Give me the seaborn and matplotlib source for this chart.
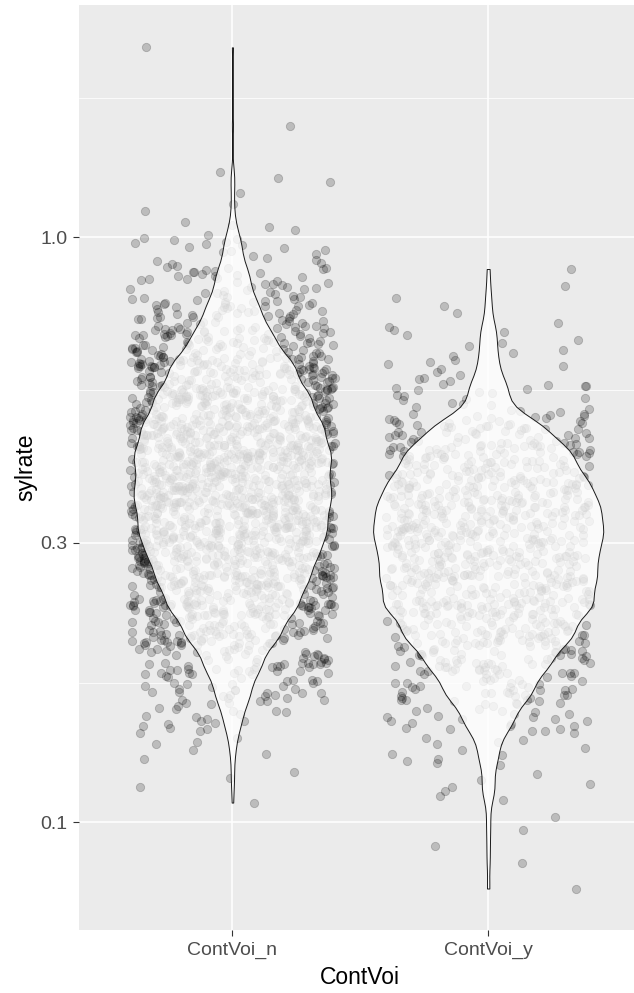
import matplotlib
matplotlib.use("Agg")
import numpy as np
import pandas as pd
import matplotlib.pyplot as plt
import seaborn as sns
from matplotlib.ticker import FixedLocator, NullFormatter

# sylrate values (ContVoi_n group), grouped by level
sylrate_n = [
    2.11, 1.55, 1.29, 1.26, 1.24, 1.19, 1.14, 1.11, 1.06, 1.05, 1.04, 1.03, 1.01,
    .998, .962, .915, .987, .943, .903, .976, .928, .951, .894, .969, .935, .909,
    .993, .957, .921, .982, .898, .946, .973,
    .884, .801, .856, .823, .872, .812, .847, .797, .866, .833, .879, .808, .841, .859, .818, .888, .827, .852, .804, .869, .838,
    .876, .814, .849, .799, .862, .831, .886, .806, .844, .871, .821, .857, .836, .881, .816,
    .789, .712, .754, .731, .776, .722, .763, .745, .709, .781, .737, .768, .716, .751, .727, .792, .741, .758, .719, .772,
    .734, .785, .748, .725, .766, .713, .757, .739, .779, .729, .761,
    .786, .715, .752, .729, .774, .742, .761, .711, .783, .735, .769, .723, .756, .747, .791, .718, .764, .738, .777, .726,
    .759, .744, .771, .732,
    .704, .636, .671, .652, .689, .644, .697, .663, .633, .681, .657, .699, .641, .675, .667, .692, .648, .684, .638, .659,
    .701, .673, .646, .687, .655, .632, .679, .694, .661, .649, .706, .669, .639, .685, .653, .696, .643, .677, .665, .690,
    .635, .658, .702, .672, .647, .683, .662, .693,
    .705, .637, .668, .654, .691, .645, .678, .660, .698, .634, .674, .650, .686, .642, .664, .695, .656, .682, .640, .670,
    .703, .651, .688, .663, .633, .676, .647, .693, .659, .680, .644, .700, .666, .653, .684, .639, .671,
    .627, .568, .594, .611, .575, .603, .582, .619, .565, .598, .586, .624, .571, .607, .590, .615, .578, .601, .566, .622,
    .584, .596, .613, .573, .605, .588, .629, .569, .609, .580, .617, .592, .564, .600, .625, .576, .612, .587, .597, .570,
    .621, .583, .606, .593, .616, .567, .602, .579, .626, .589, .610, .574, .599, .620, .585, .572, .608, .595, .628, .581,
    .614, .591, .577, .604, .618, .586, .623, .569, .597, .612, .583,
    .628, .566, .593, .609, .577, .604, .583, .618, .563, .599, .587, .623, .572, .606, .591, .614, .579, .600, .567, .621,
    .585, .595, .612, .574, .603, .589, .630, .570, .608, .581, .616, .594, .565, .601, .624, .577, .611, .588, .596, .571,
    .619, .584, .607, .592, .615, .568, .602, .578, .627, .590, .610, .575, .598, .620,
    .559, .504, .531, .547, .512, .538, .521, .553, .507, .526, .544, .516, .535, .558, .509, .528, .549, .518, .541, .503,
    .524, .556, .514, .533, .546, .520, .539, .506, .551, .529, .513, .543, .523, .557, .510, .536, .548, .517, .532, .502,
    .554, .525, .540, .511, .545, .519, .534, .560, .508, .530, .550, .515, .537, .522, .555, .505, .542, .527, .548, .513,
    .536, .552, .509, .529, .544, .520, .557, .511, .538, .524, .549, .506, .533, .541, .516, .553, .527, .503, .546, .519,
    .535, .561, .512, .531, .545, .522, .539, .508,
    .557, .505, .530, .548, .511, .537, .520, .552, .506, .527, .543, .515, .534, .559, .508, .529, .547, .517, .540, .502,
    .523, .555, .513, .532, .545, .521, .538, .507, .550, .528, .514, .542, .524, .556, .509, .535, .547, .518, .531, .503,
    .553, .526, .539, .512, .544, .520, .533, .561, .507, .529, .551, .516, .536, .523, .554, .504, .541, .526, .549, .514,
    .537, .551, .510, .530, .543, .519, .558,
    .498, .451, .474, .489, .458, .481, .466, .495, .449, .470, .486, .461, .478, .493, .455, .472, .484, .463, .497, .452,
    .476, .490, .459, .468, .483, .448, .494, .471, .487, .456, .479, .464, .499, .453, .475, .491, .460, .469, .482, .450,
    .496, .473, .485, .457, .477, .465, .492, .454, .480, .467, .488, .462, .500, .471, .483, .449, .476, .494, .458, .470,
    .486, .456, .479, .463, .497, .452, .474, .489, .461, .468, .481, .451, .495, .472, .485, .459, .477, .466, .492, .455,
    .480, .464, .498, .453, .473, .487, .460, .469, .484, .450, .493, .475, .488, .457, .478, .467, .490, .454, .482, .462,
    .496,
    .499, .450, .475, .488, .457, .480, .467, .494, .448, .471, .485, .460, .477, .492, .454, .473, .483, .462, .496, .451,
    .475, .491, .458, .467, .482, .449, .493, .470, .486, .455, .478, .465, .498, .452, .474, .490, .459, .468, .481, .451,
    .495, .472, .484, .456, .476, .464, .491, .453, .479, .466, .487, .461, .499, .470, .482, .448, .477, .493, .457, .469,
    .485, .455, .478, .462, .496, .453, .473, .488, .460, .467, .480, .450, .494, .471, .484, .458, .476,
    .444, .401, .423, .436, .409, .429, .415, .441, .403, .420, .433, .412, .426, .439, .406, .418, .431, .411, .445, .400,
    .424, .437, .408, .417, .430, .399, .442, .421, .434, .405, .427, .414, .446, .402, .422, .438, .410, .419, .432, .404,
    .443, .425, .435, .407, .428, .413, .440, .401, .423, .416, .436, .409, .446, .420, .431, .399, .426, .441, .406, .418,
    .433, .403, .429, .411, .444, .400, .424, .437, .412, .417, .430, .402, .442, .421, .434, .408, .427, .415, .439, .405,
    .425, .413, .445, .404, .422, .435, .410, .419, .432, .398, .440, .423, .437, .407, .428, .414, .443, .403, .426, .411,
    .446, .420, .431, .406, .438, .416, .429, .401, .433, .418, .441, .409, .424,
    .445, .402, .422, .437, .408, .428, .414, .442, .404, .421, .432, .413, .425, .440, .405, .417, .430, .410, .444, .399,
    .423, .436, .409, .416, .431, .400, .441, .420, .435, .406, .426, .415, .447, .403, .421, .439, .411, .418, .433, .405,
    .442, .424, .434, .408, .427, .412, .439, .402, .422, .417, .437, .410, .445, .419, .430, .400, .425, .440, .407, .419,
    .432, .404, .428, .412, .443, .401, .423, .436, .413, .416, .429, .403, .441, .422, .435, .409, .426, .414, .438, .406,
    .424, .412, .444, .405, .421,
    .396, .357, .377, .389, .363, .382, .369, .393, .359, .374, .386, .366, .380, .391, .361, .372, .384, .365, .397, .356,
    .378, .390, .362, .370, .383, .355, .394, .375, .387, .360, .379, .368, .395, .358, .376, .388, .364, .371, .385, .357,
    .392, .377, .381, .362, .373, .367, .396, .356, .379, .369, .389, .363, .397, .374, .384, .358, .380, .393, .361, .372,
    .386, .359, .382, .366, .395, .355, .376, .390, .365, .370, .383, .357, .394, .375, .387, .360, .378, .368, .391, .358,
    .377, .364, .396, .356, .373, .388, .362, .371, .385, .355, .392, .379, .389, .361, .381, .367, .394, .359, .374, .365,
    .397, .372, .383, .357, .390, .368, .380, .356, .386, .370, .393, .363, .376,
    .395, .358, .376, .388, .364, .381, .370, .392, .358, .375, .385, .367, .379, .390, .362, .373, .383, .366, .396, .357,
    .377, .389, .363, .371, .382, .356, .393, .374, .386, .361, .378, .369, .394, .359, .375, .387, .365, .372, .384, .358,
    .391, .376, .382, .363, .374, .368, .395, .357, .378, .370, .388, .364, .396, .373, .385, .359, .381, .392, .362, .371,
    .387, .360, .383, .367, .394, .356, .377, .389, .366, .369, .384, .358, .393, .376, .386, .361, .379, .367, .390, .359,
    .378, .365, .397, .357, .372,
    .353, .318, .336, .346, .323, .340, .329, .350, .320, .333, .344, .326, .338, .348, .321, .331, .342, .325, .354, .317,
    .337, .347, .322, .330, .341, .316, .351, .334, .345, .319, .339, .328, .352, .318, .335, .346, .324, .332, .343, .317,
    .349, .336, .340, .322, .333, .327, .353, .316, .338, .329, .347, .323, .354, .334, .342, .319, .339, .350, .321, .331,
    .345, .320, .341, .326, .352, .317, .335, .348, .325, .330, .343, .318, .351, .334, .344, .321, .337, .328, .349, .319,
    .336, .324, .353, .316, .332, .346, .322, .331, .342, .317, .350, .338, .347, .320, .340, .327, .352, .318, .333, .325,
    .354, .331, .343, .317, .348, .329, .339, .316, .345,
    .352, .319, .335, .347, .324, .341, .328, .349, .321, .334, .343, .327, .337, .349, .322, .330, .343, .326, .353, .318,
    .336, .346, .323, .331, .340, .317, .350, .335, .344, .320, .338, .329, .351, .319, .334, .347, .325, .333, .342, .318,
    .348, .337, .341, .323, .332, .328, .352, .317, .339, .330, .346, .324, .353, .335, .341, .320, .338, .349, .322, .332,
    .344, .321, .340, .327, .351, .318, .336, .347, .326, .329, .342, .319, .350, .333, .345, .322, .336, .329, .348, .320,
    .337, .325,
    .314, .284, .300, .309, .288, .303, .293, .312, .285, .297, .307, .290, .301, .311, .286, .295, .305, .289, .315, .283,
    .299, .310, .287, .294, .304, .282, .313, .298, .308, .285, .302, .292, .314, .284, .299, .309, .289, .296, .306, .283,
    .311, .300, .303, .287, .297, .291, .315, .282, .301, .293, .310, .288, .316, .298, .305, .284, .302, .312, .286, .295,
    .308, .285, .304, .290, .314, .283, .299, .310, .289, .294, .306, .284, .313, .297, .307, .286, .300, .292, .311, .285,
    .298, .289, .315, .282, .296, .309, .287, .295, .305, .283, .312, .301, .308, .286, .303, .291, .314, .284, .297, .290,
    .316, .294, .306,
    .313, .285, .301, .308, .289, .302, .294, .311, .286, .296, .306, .291, .300, .310, .287, .296, .304, .290, .314, .284,
    .298, .309, .288, .295, .303, .283, .312, .299, .307, .286, .301, .293, .313, .285, .298, .308, .290, .297, .305, .284,
    .310, .301, .304, .288, .296, .292, .314, .283, .302, .294, .309, .289, .315, .299, .306, .285, .303, .311, .287, .294,
    .307, .286, .305, .291, .313, .284, .300, .309, .290, .293, .305, .285, .312, .298, .306, .287, .301,
    .280, .253, .267, .275, .257, .270, .261, .278, .254, .265, .273, .259, .268, .277, .255, .263, .272, .258, .281, .252,
    .266, .276, .256, .262, .271, .251, .279, .264, .274, .254, .269, .260, .280, .253, .266, .275, .258, .263, .272, .252,
    .277, .267, .270, .256, .264, .260, .281, .251, .268, .261, .276, .257, .282, .265, .271, .253, .269, .278, .255, .262,
    .274, .254, .271, .259, .280, .252, .266, .276, .258, .262, .273, .253, .279, .265, .274, .255, .267, .260, .277, .254,
    .265, .257, .281, .251, .263, .275, .256, .262, .272,
    .279, .254, .266, .274, .258, .269, .262, .277, .255, .264, .272, .260, .267, .276, .256, .262, .271, .259, .280, .253,
    .265, .275, .257, .261, .270, .252, .278, .263, .273, .255, .268, .261, .279, .254, .265, .274, .259, .262, .271, .253,
    .276, .266, .269, .257, .263, .261, .280, .252, .267, .262, .275, .258, .281, .264, .270, .254, .268, .277, .256, .263,
    .273, .255, .270, .260, .279, .253, .265, .275,
    .249, .226, .238, .245, .229, .240, .233, .247, .227, .236, .243, .231, .239, .246, .228, .234, .242, .230, .250, .225,
    .237, .245, .228, .233, .241, .224, .248, .235, .244, .227, .239, .232, .249, .226, .236, .245, .230, .234, .242, .225,
    .247, .237, .240, .229, .235, .232, .250, .224, .238, .233, .246, .229, .251, .236, .241, .226, .239, .248, .228, .234,
    .244, .227, .241, .231, .249, .225, .237, .246, .230, .233, .243, .226, .248, .235,
    .248, .227, .237, .244, .230, .239, .234, .246, .228, .235, .242, .232, .238, .245, .229, .235, .241, .231, .249, .226,
    .236, .244, .229, .234, .240, .225, .247, .236, .243, .228, .238, .233, .248, .227, .235, .244, .231, .235, .241, .226,
    .246, .238, .239, .230, .236, .233, .249, .225, .237, .234, .245, .230, .250, .235, .240, .227,
    .222, .201, .212, .218, .204, .214, .208, .220, .202, .210, .217, .206, .213, .219, .203, .209, .216, .205, .223, .200,
    .211, .218, .204, .208, .215, .201, .221, .210, .217, .202, .213, .207, .222, .201, .211, .219, .205, .209, .216, .200,
    .220, .212, .214, .204, .210, .206, .223, .202, .213, .208, .218, .205, .221, .211,
    .221, .202, .211, .217, .205, .213, .209, .219, .203, .209, .216, .207, .212, .218, .204, .210, .215, .206, .222, .201,
    .210, .217, .205, .209, .214, .202, .220, .211, .216, .203, .212, .208, .221, .202, .210, .218, .206, .208, .215, .201,
    .219,
    .198, .180, .189, .195, .182, .191, .185, .197, .179, .187, .193, .183, .190, .196, .181, .186, .194, .184, .199, .178,
    .188, .195, .182, .186, .192, .179, .197, .187, .193, .180, .190, .184, .198, .181,
    .197, .181, .188, .194, .183, .190, .186, .196, .180, .186, .192, .184, .189, .195, .182, .185, .193, .185, .198, .179,
    .187, .194, .183, .187, .191, .180,
    .176, .160, .168, .173, .162, .170, .165, .175, .159, .167, .172, .163, .169, .174, .161, .166, .171, .164, .177, .158,
    .175, .161, .167, .172, .163, .169, .166, .174, .160, .166, .171, .164, .168, .173, .162, .165,
    .156, .143, .150, .154, .145, .152, .147, .155, .142, .149,
    .155, .144, .149, .153, .146, .151, .148, .157,
    .139, .133, .128, .136, .137, .131, .122, .119, .115, .108,
]

# sylrate values (ContVoi_y group)
sylrate_y = [
    .882, .788, .742, .703, .688, .679, .668, .651, .634, .626, .617, .608, .601, .594, .587, .581, .574, .568, .561, .556,
    .824, .763, .712, .695, .659, .642, .611, .571,
    .559, .504, .531, .547, .512, .538, .521, .553, .507, .526, .544, .516, .535, .550, .509, .528, .541, .518, .557, .502,
    .498, .451, .474, .489, .458, .481, .466, .495, .449, .470, .486, .461, .478, .493, .455, .472, .484, .463, .497, .452,
    .476, .490, .459, .468, .483, .448, .494, .471, .487, .456, .479, .464, .499, .453, .475, .491,
    .473, .459, .480, .465, .450, .469, .485, .462, .477, .456, .471, .464, .453, .475, .460, .467, .482,
    .444, .401, .423, .436, .409, .429, .415, .441, .403, .420, .433, .412, .426, .439, .406, .418, .431, .411, .445, .400,
    .424, .437, .408, .417, .430, .399, .442, .421, .434, .405, .427, .414, .446, .402, .422, .438, .410, .419, .432, .404,
    .443, .425, .435, .407, .428, .413, .440, .416, .426,
    .445, .402, .422, .437, .408, .428, .414, .442, .404, .421, .432, .413, .425, .440, .405, .417, .430, .410, .444, .399,
    .423, .436, .409, .416, .431, .400, .441, .420, .435, .406, .426, .415, .447, .403, .421, .439, .411,
    .396, .357, .377, .389, .363, .382, .369, .393, .359, .374, .386, .366, .380, .391, .361, .372, .384, .365, .397, .356,
    .378, .390, .362, .370, .383, .355, .394, .375, .387, .360, .379, .368, .395, .358, .376, .388, .364, .371, .385, .357,
    .392, .377, .381, .362, .373, .367, .396, .356, .379, .369, .389, .363, .397, .374, .384, .358, .380, .393, .361,
    .395, .358, .376, .388, .364, .381, .370, .392, .358, .375, .385, .367, .379, .390, .362, .373, .383, .366, .396, .357,
    .377, .389, .363, .371, .382, .356, .393, .374, .386, .361, .378, .369, .394, .359, .375, .387, .365, .372, .384, .358,
    .391, .376, .382, .363,
    .353, .318, .336, .346, .323, .340, .329, .350, .320, .333, .344, .326, .338, .348, .321, .331, .342, .325, .354, .317,
    .337, .347, .322, .330, .341, .316, .351, .334, .345, .319, .339, .328, .352, .318, .335, .346, .324, .332, .343, .317,
    .349, .336, .340, .322, .333, .327, .353, .316, .338, .329, .347, .323, .354, .334, .342, .319, .339, .350, .321, .331,
    .345, .320, .341, .326, .352, .317,
    .352, .319, .335, .347, .324, .341, .328, .349, .321, .334, .343, .327, .337, .349, .322, .330, .343, .326, .353, .318,
    .336, .346, .323, .331, .340, .317, .350, .335, .344, .320, .338, .329, .351, .319, .334, .347, .325, .333, .342, .318,
    .348, .337, .341, .323, .332, .328, .352, .317, .339,
    .314, .284, .300, .309, .288, .303, .293, .312, .285, .297, .307, .290, .301, .311, .286, .295, .305, .289, .315, .283,
    .299, .310, .287, .294, .304, .282, .313, .298, .308, .285, .302, .292, .314, .284, .299, .309, .289, .296, .306, .283,
    .311, .300, .303, .287, .297, .291, .315, .282, .301, .293, .310, .288, .316, .298, .305, .284, .302, .312, .286, .295,
    .308, .285, .304, .290,
    .313, .285, .301, .308, .289, .302, .294, .311, .286, .296, .306, .291, .300, .310, .287, .296, .304, .290, .314, .284,
    .298, .309, .288, .295, .303, .283, .312, .299, .307, .286, .301, .293, .313, .285, .298, .308, .290, .297, .305, .284,
    .310, .301, .304, .288, .296, .292, .314, .283,
    .280, .253, .267, .275, .257, .270, .261, .278, .254, .265, .273, .259, .268, .277, .255, .263, .272, .258, .281, .252,
    .266, .276, .256, .262, .271, .251, .279, .264, .274, .254, .269, .260, .280, .253, .266, .275, .258, .263, .272, .252,
    .277, .267, .270, .256, .264, .260, .281, .251, .268, .261, .276, .257, .282, .265, .271, .253, .269, .278, .255, .262,
    .274, .254,
    .279, .254, .266, .274, .258, .269, .262, .277, .255, .264, .272, .260, .267, .276, .256, .262, .271, .259, .280, .253,
    .265, .275, .257, .261, .270, .252, .278, .263, .273, .255, .268, .261, .279, .254, .265, .274, .259, .262, .271, .253,
    .276, .266, .269, .257, .263, .261,
    .249, .226, .238, .245, .229, .240, .233, .247, .227, .236, .243, .231, .239, .246, .228, .234, .242, .230, .250, .225,
    .237, .245, .228, .233, .241, .224, .248, .235, .244, .227, .239, .232, .249, .226, .236, .245, .230, .234, .242, .225,
    .247, .237, .240, .229, .235, .232, .250, .224, .238, .233, .246, .229, .251, .236, .241, .226, .239, .248, .228,
    .248, .227, .237, .244, .230, .239, .234, .246, .228, .235, .242, .232, .238, .245, .229, .235, .241, .231, .249, .226,
    .236, .244, .229, .234, .240, .225, .247, .236, .243, .228, .238, .233, .248, .227, .235, .244, .231, .235, .241, .226,
    .246, .238, .239, .230,
    .222, .201, .212, .218, .204, .214, .208, .220, .202, .210, .217, .206, .213, .219, .203, .209, .216, .205, .223, .200,
    .211, .218, .204, .208, .215, .201, .221, .210, .217, .202, .213, .207, .222, .201, .211, .219, .205, .209, .216, .200,
    .220, .212, .214, .204, .210, .206, .223, .202,
    .221, .202, .211, .217, .205, .213, .209, .219, .203, .209, .216, .207, .212, .218, .204, .210, .215, .206, .222, .201,
    .210, .217, .205, .209, .214, .202, .220, .211, .216, .203, .212, .208, .221, .202, .210, .218,
    .198, .180, .189, .195, .182, .191, .185, .197, .179, .187, .193, .183, .190, .196, .181, .186, .194, .184, .199, .178,
    .188, .195, .182, .186, .192, .179, .197, .187, .193, .180, .190, .184, .198, .181, .189, .194,
    .197, .181, .188, .194, .183, .190, .186, .196, .180, .186, .192, .184, .189, .195, .182, .185, .193, .185, .198, .179,
    .187, .194, .183, .187, .191, .180, .196,
    .176, .160, .168, .173, .162, .170, .165, .175, .159, .167, .172, .163, .169, .174, .161, .166, .171, .164, .177, .158,
    .168, .173, .162, .170, .165,
    .175, .161, .167, .172, .163, .169, .166, .174, .160, .166, .171, .164, .168, .173, .162, .165, .170, .159, .176,
    .156, .143, .150, .154, .145, .152, .147, .155, .142, .149, .153, .146, .151, .144,
    .155, .144, .149, .153, .146, .151, .148, .157, .143, .150,
    .139, .133, .128, .136, .130, .138, .126, .137, .131, .134, .127,
    .125, .116, .115, .113, .121, .118,
    .111, .109, .102, .097, .091, .085, .077,
]

groups = ["ContVoi_n", "ContVoi_y"]
y_ticks = [0.1, 0.3, 1.0]
y_tick_labels = ["0.1", "0.3", "1.0"]

df = pd.DataFrame({
    "ContVoi": [groups[0]] * len(sylrate_n) + [groups[1]] * len(sylrate_y),
    "sylrate": sylrate_n + sylrate_y,
})

sns.set_style("darkgrid", {"axes.facecolor": "#EBEBEB", "grid.color": "white"})
plt.rcParams["font.family"] = ["Liberation Sans", "DejaVu Sans"]

fig = plt.figure(figsize=(6.34, 9.93), dpi=100)
ax = fig.add_axes([79 / 634, 63 / 993, 562.6 / 634, 925 / 993])

# jittered points (library jitter, like geom_jitter)
np.random.seed(7)
sns.stripplot(data=df, x="ContVoi", y="sylrate", order=groups, jitter=0.4,
              color="black", alpha=0.2, size=6.0, linewidth=0.6,
              edgecolor="black", log_scale=True, zorder=2, ax=ax)

n_before = len(ax.collections)
sns.violinplot(data=df, x="ContVoi", y="sylrate", order=groups, log_scale=True,
               cut=0, inner=None, density_norm="area", width=0.9, bw_adjust=0.45,
               color="white", linecolor="black", linewidth=0.7, saturation=1, ax=ax)
for c in ax.collections[n_before:]:
    c.set_facecolor((1, 1, 1, 0.8))
    c.set_edgecolor((0.1, 0.1, 0.1, 1))
    c.set_zorder(3)

ax.set_yscale("log")
ax.set_ylim(0.0654, 2.493)
ax.set_xlim(-0.6, 1.6)

# ggplot-like grid: major + minor at log midpoints
ax.yaxis.set_major_locator(FixedLocator(y_ticks))
ax.set_yticklabels(y_tick_labels)
ax.yaxis.set_minor_locator(FixedLocator([np.sqrt(0.03), np.sqrt(0.3), np.sqrt(3)]))
ax.yaxis.set_minor_formatter(NullFormatter())
ax.grid(True, which="major", color="white", linewidth=1.1, zorder=0)
ax.grid(True, which="minor", axis="y", color="white", linewidth=0.55, zorder=0)
ax.set_axisbelow(True)
for s in ax.spines.values():
    s.set_visible(False)

ax.tick_params(axis="both", which="major", length=4.2, width=0.8, color="#333333",
               labelsize=14, labelcolor="#4D4D4D", bottom=True, left=True)
ax.tick_params(axis="y", which="major", pad=4.3)
ax.tick_params(axis="x", which="major", pad=4.5)
ax.tick_params(axis="y", which="minor", length=0)

ax.set_xlabel("ContVoi", fontsize=16.5, color="black")
ax.set_ylabel("sylrate", fontsize=16.5, color="black")
ax.xaxis.set_label_coords(0.5, -0.039)
ax.yaxis.set_label_coords(-0.074, 0.5)

fig.savefig("out.png", dpi=100)
